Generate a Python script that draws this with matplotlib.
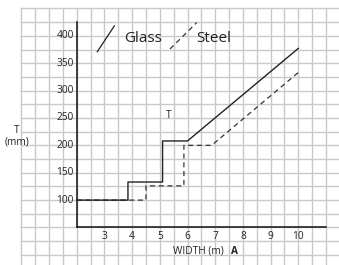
import numpy as np
import matplotlib
matplotlib.use("Agg")
import matplotlib.pyplot as plt

plt.rcParams['font.family'] = ['Open Sans', 'DejaVu Sans']

# ---- data ----
glass_x = [2.0, 3.85, 3.85, 5.1, 5.1, 6.0, 10.0]
glass_y = [100, 100, 133, 133, 208, 208, 377]
steel_x = [2.0, 4.5, 4.5, 5.87, 5.87, 6.87, 10.0]
steel_y = [100, 100, 126, 126, 200, 200, 333]
x_ticks = [3, 4, 5, 6, 7, 8, 9, 10]
y_ticks = [100, 150, 200, 250, 300, 350, 400]

fig = plt.figure(figsize=(3.39, 2.65), dpi=100)
ax = fig.add_axes([0, 0, 1, 1])
ax.set_xlim(-0.769, 11.469)
ax.set_ylim(-18.5, 465.4)
ax.axis('off')

grid_c = '#c9c9c9'
# graph paper
for gx in np.arange(0, 11.01, 0.5):
    ax.plot([gx, gx], [-30, 450], color=grid_c, lw=1.0, zorder=0)
for gy in np.arange(0, 451, 25):
    ax.plot([0, 12], [gy, gy], color=grid_c, lw=1.0, zorder=0)

# axes lines
ax.plot([2, 2], [50, 425], color='#111111', lw=1.1, zorder=2)
ax.plot([2, 11], [50, 50], color='#111111', lw=1.1, zorder=2)

# series
ax.plot(steel_x, steel_y, color='#333333', lw=0.9, dashes=(4, 3), zorder=3)
ax.plot(glass_x, glass_y, color='#222222', lw=1.0, zorder=4)

fs = 7.3
for t in y_ticks:
    ax.text(1.9, t, str(t), ha='right', va='center', fontsize=fs, color='#222222')
for t in x_ticks:
    ax.text(t, 34, str(t), ha='center', va='center', fontsize=fs, color='#222222')

# legend-like annotations
ax.plot([2.744, 3.357], [371, 418], color='#222222', lw=0.9)
ax.text(3.7, 395, 'Glass', ha='left', va='center', fontsize=11, color='#222222')
ax.plot([5.37, 6.33], [376, 424], color='#333333', lw=0.9, dashes=(4, 3))
ax.text(6.3, 395, 'Steel', ha='left', va='center', fontsize=11, color='#222222')

ax.text(5.31, 255, 'T', ha='center', va='center', fontsize=fs, color='#222222')
ax.text(-0.15, 228, 'T', ha='center', va='center', fontsize=fs, color='#222222')
ax.text(-0.15, 206, '(mm)', ha='center', va='center', fontsize=fs, color='#222222')

ax.text(5.47, 7, 'WIDTH (m)', ha='left', va='center', fontsize=fs, color='#222222')
ax.text(7.58, 7, 'A', ha='left', va='center', fontsize=fs, fontweight='bold', color='#222222')

fig.savefig('out.png', dpi=100)
